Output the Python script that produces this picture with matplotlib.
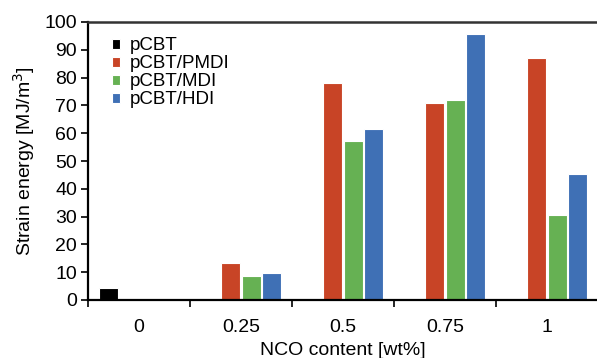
import matplotlib.pyplot as plt
import numpy as np

plt.rcParams['font.family'] = ['Liberation Sans', 'DejaVu Sans']

categories = ['0', '0.25', '0.5', '0.75', '1']
series = ['pCBT', 'pCBT/PMDI', 'pCBT/MDI', 'pCBT/HDI']
pcbt = [4.2, 0, 0, 0, 0]
pmdi = [0, 13.4, 78.2, 71.0, 87.2]
mdi = [0, 8.6, 57.2, 72.1, 30.5]
hdi = [0, 9.8, 61.4, 95.7, 45.2]
colors = ['#000000', '#C84426', '#66B153', '#3F70B5']

fig = plt.figure(figsize=(5.97, 3.58), dpi=100)
ax = fig.add_axes([88/597, 58/358, 510/597, 278/358])

x = np.arange(len(categories))
slot = 0.202
for i, (vals, name, c) in enumerate(zip([pcbt, pmdi, mdi, hdi], series, colors)):
    ax.bar(x + (i - 1.5) * slot, vals, width=slot * 0.92, color=c,
           edgecolor='white', linewidth=0.8, label=name)

ax.set_xlim(-0.5, 4.5)
ax.set_ylim(0, 100)
ax.set_yticks(np.arange(0, 101, 10))
ax.set_xticks(np.arange(-0.5, 4.5, 1))
ax.set_xticklabels([])
ax.set_xticks(x, minor=True)
ax.set_xticklabels(categories, minor=True)
ax.tick_params(axis='x', which='minor', length=0, pad=14, labelsize=14)
ax.tick_params(axis='x', which='major', length=5, width=1.2, direction='out')
ax.tick_params(axis='y', length=5, width=1.2, direction='out', labelsize=14, pad=3)

for s in ['left', 'bottom']:
    ax.spines[s].set_linewidth(1.6)
ax.spines['top'].set_linewidth(1.8)
ax.spines['top'].set_color('#333333')
ax.spines['right'].set_visible(False)

ax.set_ylabel('Strain energy [MJ/m$^3$]', fontsize=14, labelpad=5)
ax.set_xlabel('NCO content [wt%]', fontsize=14, labelpad=4)

ax.legend(loc='upper left', bbox_to_anchor=(0.025, 0.985), frameon=False,
          fontsize=13.5, handlelength=0.45, handleheight=0.45, handletextpad=0.5,
          labelspacing=0.05, borderaxespad=0.2)

fig.savefig('out.png', dpi=100)
